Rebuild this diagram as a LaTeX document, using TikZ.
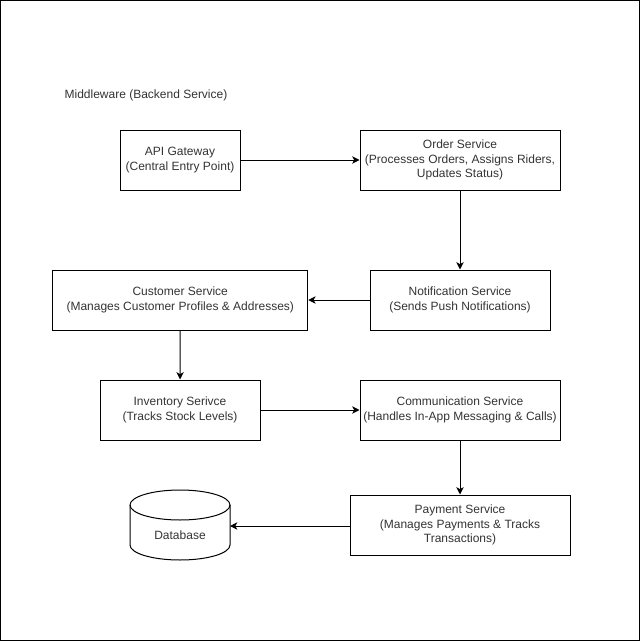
\documentclass[tikz,border=0pt]{standalone}
\usepackage{fontspec}
\setmainfont{Liberation Sans}
\usetikzlibrary{arrows.meta}
\begin{document}
\begin{tikzpicture}[x=0.75pt,y=-0.75pt,
  box/.style={draw, line width=0.75pt, inner sep=0pt, align=center, minimum height=45pt,
    font=\fontsize{9pt}{10.9pt}\selectfont, text=black!80},
  conn/.style={line width=0.75pt, -{Stealth[length=5.5pt,width=5.5pt,inset=1.5pt]}}]
\useasboundingbox (0,0) rectangle (642,642);
\draw[line width=0.75pt] (0.5,0.5) rectangle (639.5,640.5);
\node[font=\fontsize{9pt}{10.9pt}\selectfont, text=black!80] (title) at (146,95) {Middleware (Backend Service)};
\node[box, minimum width=90pt] (api) at (180,160) {API Gateway\\(Central Entry Point)};
\node[box, minimum width=150pt] (order) at (460,160) {Order Service\\(Processes Orders, Assigns Riders,\\Updates Status)};
\node[box, minimum width=135pt] (notif) at (460,300) {Notification Service\\(Sends Push Notifications)};
\node[box, minimum width=191.25pt] (cust) at (180.25,300) {Customer Service\\(Manages Customer Profiles \& Addresses)};
\node[box, minimum width=120pt] (inv) at (180,410) {Inventory Serivce\\(Tracks Stock Levels)};
\node[box, minimum width=150pt] (comm) at (460,410) {Communication Service\\(Handles In-App Messaging \& Calls)};
\node[box, minimum width=165pt] (pay) at (460,525) {Payment Service\\(Manages Payments \& Tracks\\Transactions)};
% cylinder
\draw[line width=0.75pt] (130,505) -- (130,545)
  .. controls (130,553.28) and (152.4,560) .. (180,560)
  .. controls (207.6,560) and (230,553.28) .. (230,545) -- (230,505);
\draw[line width=0.75pt] (130,505)
  .. controls (130,496.72) and (152.4,490) .. (180,490)
  .. controls (207.6,490) and (230,496.72) .. (230,505)
  .. controls (230,513.28) and (207.6,520) .. (180,520)
  .. controls (152.4,520) and (130,513.28) .. (130,505);
\node[font=\fontsize{9pt}{10.9pt}\selectfont, text=black!80, inner sep=0pt] (db) at (180,535) {Database};
\coordinate (dbin) at (230,526);
\draw[conn] (api) -- (order);
\draw[conn] (order) -- (notif);
\draw[conn] (notif) -- (cust);
\draw[conn] (cust) -- (inv);
\draw[conn] (inv) -- (comm);
\draw[conn] (comm) -- (pay);
\draw[conn] (pay.west |- dbin) -- (dbin);
\end{tikzpicture}
\end{document}
